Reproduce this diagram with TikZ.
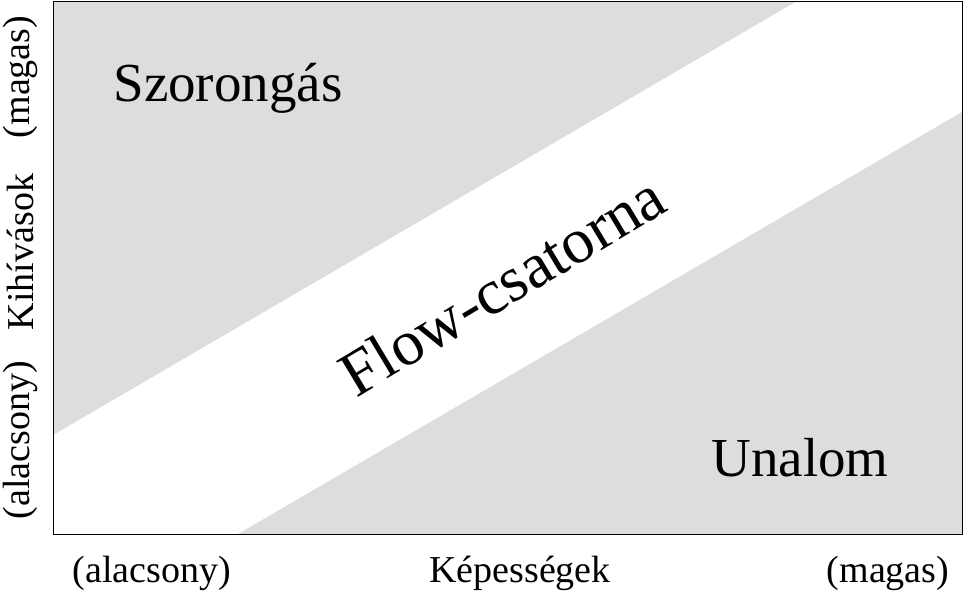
\documentclass[tikz,border=0pt]{standalone}
\usepackage{fontspec}
\setmainfont{Liberation Serif}
\usepackage{xcolor}
\usetikzlibrary{calc}
\definecolor{zonegray}{HTML}{DDDDDD}

\begin{document}
\begin{tikzpicture}[x=1pt,y=-1pt]
  \useasboundingbox (0,0) rectangle (964,595);
  \fill[zonegray] (53,1) -- (797,1) -- (53,435) -- cycle;
  \fill[zonegray] (238,534) -- (962,112) -- (962,534) -- cycle;
  \draw[black, line width=1pt] (53,1) rectangle (962,534);
  \node[font=\fontsize{55}{60}\selectfont] (anx) at (228,88) {Szorongás};
  \node[font=\fontsize{55}{60}\selectfont] (bor) at (800,458) {Unalom};
  \node[font=\fontsize{64}{68}\selectfont, rotate=31] (flow) at (502,285) {Flow-csatorna};
  \node[font=\fontsize{38}{40}\selectfont] (xlo) at (152,573) {(alacsony)};
  \node[font=\fontsize{38}{40}\selectfont] (xlab) at (520,573) {Képességek};
  \node[font=\fontsize{38}{40}\selectfont] (xhi) at (888,573) {(magas)};
  \node[font=\fontsize{38}{40}\selectfont, rotate=90] (ylo) at (20,440) {(alacsony)};
  \node[font=\fontsize{38}{40}\selectfont, rotate=90] (ylab) at (20,252) {Kihívások};
  \node[font=\fontsize{38}{40}\selectfont, rotate=90] (yhi) at (20,77) {(magas)};
\end{tikzpicture}
\end{document}
